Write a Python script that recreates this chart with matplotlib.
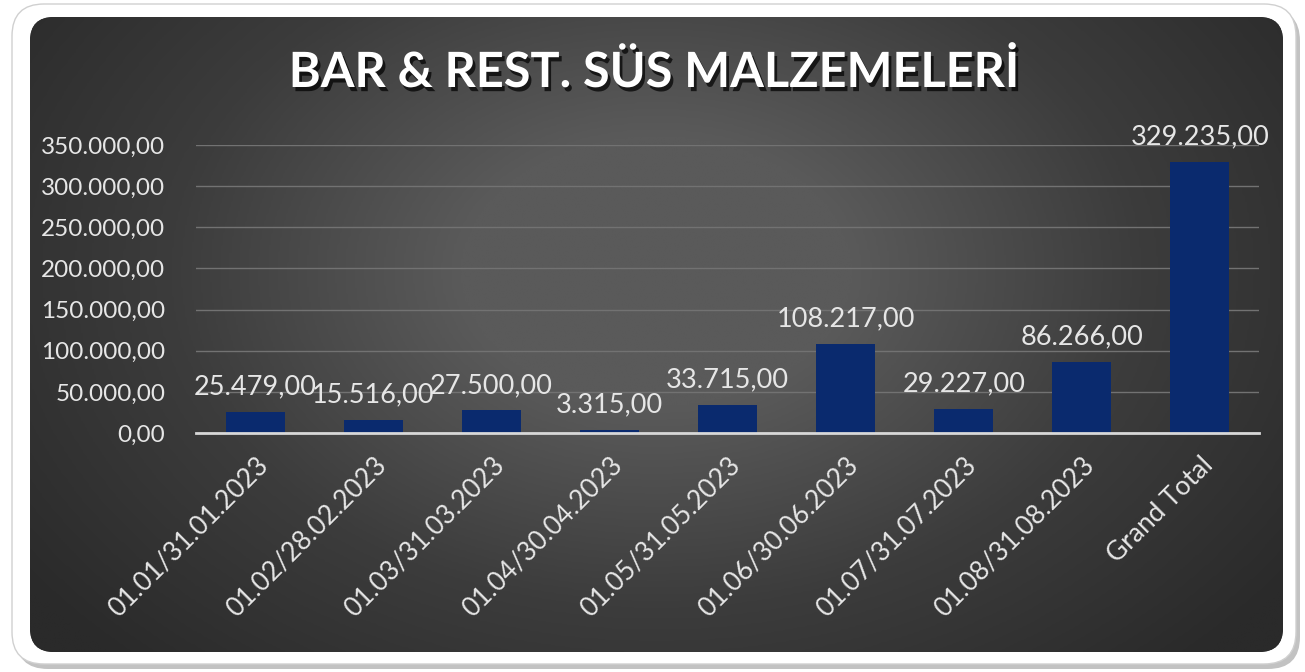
import numpy as np
import matplotlib
matplotlib.use('Agg')
from matplotlib import pyplot as plt
from matplotlib.patches import FancyBboxPatch
from matplotlib.colors import LinearSegmentedColormap
import matplotlib.patheffects as pe
from matplotlib.ticker import FuncFormatter

periods = ['01.01/31.01.2023', '01.02/28.02.2023', '01.03/31.03.2023',
           '01.04/30.04.2023', '01.05/31.05.2023', '01.06/30.06.2023',
           '01.07/31.07.2023', '01.08/31.08.2023', 'Grand Total']
amounts = [25479, 15516, 27500, 3315, 33715, 108217, 29227, 86266, 329235]
title = 'BAR & REST. SÜS MALZEMELERİ'

plt.rcParams['font.family'] = ['Lato', 'DejaVu Sans']
txt_col = '#e6e6e6'


def tr_fmt(v, pos=None):
    s = f'{v:,.2f}'
    return s.replace(',', 'X').replace('.', ',').replace('X', '.')


W, H = 1305, 672
fig = plt.figure(figsize=(W / 100, H / 100), dpi=100)
fig.patch.set_facecolor('white')

# frame drawn in pixel units
bg = fig.add_axes([0, 0, 1, 1])
bg.set_xlim(0, W)
bg.set_ylim(0, H)
bg.axis('off')
shadow = FancyBboxPatch((16, 3), 1284, 660, boxstyle='round,pad=0,rounding_size=32',
                        fc='#9a9a9a', ec='none', alpha=0.6)
bg.add_patch(shadow)
outer = FancyBboxPatch((12, 8), 1284, 660, boxstyle='round,pad=0,rounding_size=32',
                       fc='white', ec='#d0d0d0', lw=1)
bg.add_patch(outer)
panel = FancyBboxPatch((30, 20), 1253, 635, boxstyle='round,pad=0,rounding_size=24',
                       fc='#2c2c2c', ec='none')
bg.add_patch(panel)
yy, xx = np.mgrid[0:1:300j, 0:1:600j]
r = np.sqrt(((xx - 0.5) / 0.62) ** 2 + ((yy - 0.4) / 0.85) ** 2)
grad = np.clip(1 - r, 0, 1)
cmap = LinearSegmentedColormap.from_list('bgrad', ['#2a2a2a', '#3c3c3c', '#5a5a5a'])
img = bg.imshow(grad, extent=(30, 1283, 20, 655), cmap=cmap, vmin=0, vmax=0.75,
                origin='upper', aspect='auto', interpolation='bilinear', zorder=2)
img.set_clip_path(panel)

fig.text(654 / W, 1 - 72 / H, title, ha='center', va='center', color='white',
         fontsize=35, fontweight='bold', zorder=5,
         path_effects=[pe.withSimplePatchShadow(offset=(2, -3), shadow_rgbFace='black', alpha=0.7)])

ax = fig.add_axes([196 / W, 239 / H, 1063 / W, 288 / H])
ax.set_facecolor('none')
x = np.arange(len(periods))
bars = ax.bar(x, amounts, width=0.5, color='#0a2a6e', zorder=3)
ax.set_ylim(0, 350000)
ax.set_xlim(-0.5, len(periods) - 0.5)
ax.set_yticks(np.arange(0, 350001, 50000))
ax.yaxis.set_major_formatter(FuncFormatter(tr_fmt))
ax.grid(axis='y', color='#727272', lw=1, zorder=0)
for s in ['top', 'right', 'left']:
    ax.spines[s].set_visible(False)
ax.spines['bottom'].set_color('#d8d8d8')
ax.spines['bottom'].set_linewidth(2)
ax.spines['bottom'].set_zorder(4)
ax.tick_params(axis='both', length=0, colors=txt_col, labelsize=17.5)
ax.tick_params(axis='y', pad=22)
ax.set_xticks(x)
ax.set_xticklabels(periods, rotation=45, ha='right', va='top', rotation_mode='anchor',
                   fontsize=19)
ax.tick_params(axis='x', pad=14)

for xi, v in zip(x, amounts):
    ax.annotate(tr_fmt(v), (xi, v), xytext=(0, 9), textcoords='offset points',
                ha='center', va='bottom', color=txt_col, fontsize=19.5, clip_on=False)

fig.savefig('out.png', dpi=100)
